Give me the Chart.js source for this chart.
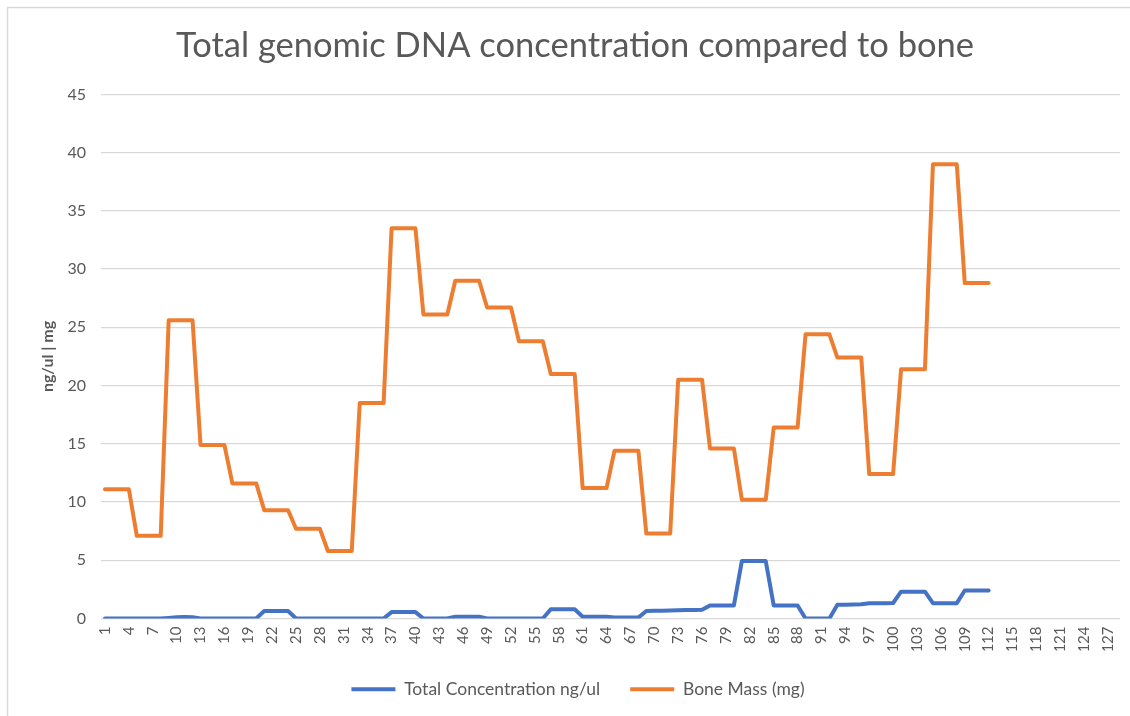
<!DOCTYPE html>
<html>
<head>
<meta charset="utf-8">
<script src="https://cdn.jsdelivr.net/npm/chart.js@4/dist/chart.umd.min.js"></script>
<style>
  html, body { margin: 0; padding: 0; background: #ffffff; overflow: hidden; }
  #wrap { position: relative; width: 1130px; height: 716px; overflow: hidden; }
</style>
</head>
<body>
<div id="wrap"><canvas id="c" width="1130" height="716"></canvas></div>
<script>
// ---- data ----
const chartTitle = 'Total genomic DNA concentration compared to bone';
const yAxisTitle = 'ng/ul | mg';
const categories = [];
for (let i = 1; i <= 128; i++) categories.push(String(i));

const concentrationLabel = 'Total Concentration ng/ul';
const concentration = [
  0, 0, 0, 0,
  0, 0, 0, 0,
  0.05, 0.1, 0.12, 0.1,
  0, 0, 0, 0,
  0, 0, 0, 0,
  0.65, 0.65, 0.65, 0.65,
  0, 0, 0, 0,
  0, 0, 0, 0,
  0, 0, 0, 0,
  0.55, 0.55, 0.55, 0.55,
  0, 0, 0, 0,
  0.15, 0.15, 0.15, 0.15,
  0, 0, 0, 0,
  0, 0, 0, 0,
  0.8, 0.8, 0.8, 0.8,
  0.15, 0.15, 0.15, 0.15,
  0.08, 0.08, 0.08, 0.08,
  0.65, 0.66, 0.66, 0.68,
  0.7, 0.72, 0.73, 0.75,
  1.12, 1.12, 1.12, 1.12,
  4.93, 4.93, 4.93, 4.93,
  1.12, 1.12, 1.12, 1.12,
  0, 0, 0, 0,
  1.18, 1.18, 1.2, 1.22,
  1.3, 1.32, 1.32, 1.33,
  2.3, 2.3, 2.3, 2.3,
  1.32, 1.32, 1.32, 1.32,
  2.4, 2.4, 2.4, 2.4
];

const boneLabel = 'Bone Mass (mg)';
const boneMass = [
  11.1, 11.1, 11.1, 11.1,
  7.1, 7.1, 7.1, 7.1,
  25.6, 25.6, 25.6, 25.6,
  14.9, 14.9, 14.9, 14.9,
  11.6, 11.6, 11.6, 11.6,
  9.3, 9.3, 9.3, 9.3,
  7.7, 7.7, 7.7, 7.7,
  5.8, 5.8, 5.8, 5.8,
  18.5, 18.5, 18.5, 18.5,
  33.5, 33.5, 33.5, 33.5,
  26.1, 26.1, 26.1, 26.1,
  29.0, 29.0, 29.0, 29.0,
  26.7, 26.7, 26.7, 26.7,
  23.8, 23.8, 23.8, 23.8,
  21.0, 21.0, 21.0, 21.0,
  11.2, 11.2, 11.2, 11.2,
  14.4, 14.4, 14.4, 14.4,
  7.3, 7.3, 7.3, 7.3,
  20.5, 20.5, 20.5, 20.5,
  14.6, 14.6, 14.6, 14.6,
  10.2, 10.2, 10.2, 10.2,
  16.4, 16.4, 16.4, 16.4,
  24.4, 24.4, 24.4, 24.4,
  22.4, 22.4, 22.4, 22.4,
  12.4, 12.4, 12.4, 12.4,
  21.4, 21.4, 21.4, 21.4,
  39.0, 39.0, 39.0, 39.0,
  28.8, 28.8, 28.8, 28.8
];

const yMin = 0, yMax = 45, yStep = 5;
const xLabelEvery = 3;

// ---- chart ----
const FONT = 'Lato, Carlito, Calibri, "Open Sans", sans-serif';
const GREY = '#595959';

const borderPlugin = {
  id: 'frame',
  afterLayout(chart) {
    // centre title and legend on the (wider) chart frame, as in the original
    if (chart.titleBlock) { chart.titleBlock.left += 15; chart.titleBlock.right += 15; }
    if (chart.legend) { chart.legend.left += 18; chart.legend.right += 18; }
  },
  afterDraw(chart) {
    const ctx = chart.ctx;
    ctx.save();
    ctx.strokeStyle = '#d9d9d9';
    ctx.lineWidth = 1.5;
    ctx.beginPath();
    ctx.moveTo(7.5, chart.height);
    ctx.lineTo(7.5, 7.5);
    ctx.lineTo(chart.width, 7.5);
    ctx.stroke();
    ctx.restore();
  }
};

new Chart(document.getElementById('c'), {
  type: 'line',
  data: {
    labels: categories,
    datasets: [
      {
        label: concentrationLabel,
        data: concentration,
        borderColor: '#4472C4',
        backgroundColor: '#4472C4',
        borderWidth: 4,
        pointRadius: 0,
        pointHoverRadius: 0,
        tension: 0,
        borderJoinStyle: 'round',
        borderCapStyle: 'round',
        fill: false
      },
      {
        label: boneLabel,
        data: boneMass,
        borderColor: '#ED7D31',
        backgroundColor: '#ED7D31',
        borderWidth: 4,
        pointRadius: 0,
        pointHoverRadius: 0,
        tension: 0,
        borderJoinStyle: 'round',
        borderCapStyle: 'round',
        fill: false
      }
    ]
  },
  options: {
    responsive: false,
    animation: false,
    devicePixelRatio: 1,
    layout: { padding: { left: 0, right: 10, top: 0, bottom: 8 } },
    plugins: {
      title: {
        display: true,
        text: chartTitle,
        color: GREY,
        font: { family: FONT, size: 34.5, weight: 'normal' },
        padding: { top: 25, bottom: 28 }
      },
      legend: {
        position: 'bottom',
        labels: {
          color: GREY,
          font: { family: FONT, size: 17.5 },
          usePointStyle: true,
          pointStyle: 'line',
          pointStyleWidth: 44,
          padding: 30
        }
      },
      tooltip: { enabled: false }
    },
    scales: {
      x: {
        type: 'category',
        offset: true,
        grid: { display: false, drawTicks: false },
        border: { display: false },
        ticks: {
          color: GREY,
          font: { family: FONT, size: 15 },
          autoSkip: false,
          maxRotation: 90,
          minRotation: 90,
          padding: 8,
          callback: function (v, i) { return i % xLabelEvery === 0 ? this.getLabelForValue(v) : ''; }
        },
        afterFit(scale) { scale.height = 32; scale.paddingLeft = 0; scale.paddingRight = 0; }
      },
      y: {
        min: yMin,
        max: yMax,
        grid: { color: '#d9d9d9', lineWidth: 1.3, drawTicks: false },
        border: { display: false },
        ticks: {
          stepSize: yStep,
          color: GREY,
          font: { family: FONT, size: 16 },
          padding: 15
        },
        title: {
          display: true,
          text: yAxisTitle,
          color: GREY,
          font: { family: FONT, size: 16, weight: 'bold' },
          padding: { top: 38, bottom: 0 }
        },
        afterFit(scale) { scale.width = 101; }
      }
    }
  },
  plugins: [borderPlugin]
});
</script>
</body>
</html>
